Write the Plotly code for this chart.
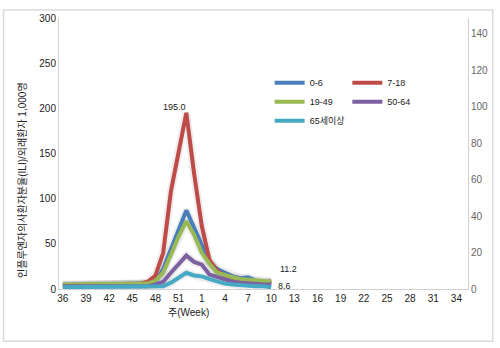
import plotly.graph_objects as go

weeks = [str(w) for w in range(36, 54)] + [str(w) for w in range(1, 36)]
tick_weeks = weeks[::3]

# data weeks 36..53, 1..10 (28 points)
data_weeks = weeks[:28]
s_0_6 =   [4.5, 5, 5, 5, 5, 5, 5, 5, 5, 5, 5, 6, 8, 22, 44, 65, 87, 68, 48, 30, 22, 18, 14, 12, 13, 9, 8, 7]
s_7_18 =  [4, 4, 4, 4, 4, 4, 4, 4, 4, 4, 6, 8, 15, 40, 108, 152, 195.0, 128, 70, 32, 20, 15, 12, 10, 9, 8, 7, 8.6]
s_19_49 = [5, 5, 5, 5, 5, 5, 5, 5, 5, 5, 5, 6, 9, 18, 38, 58, 75, 60, 40, 28, 18, 15, 13, 11, 10, 10, 9, 8]
s_50_64 = [3, 3, 3, 3, 3, 3, 3, 3, 3, 3, 3, 3, 5, 8, 18, 28, 37, 30, 27, 16, 13, 10, 8, 7, 6, 6, 5, 5]
s_65 =    [2, 2, 2, 2, 2, 2, 2, 2, 2, 2, 2, 2, 2, 3, 7, 13, 18, 15, 14, 11, 8, 6, 5, 4, 4, 3, 3, 2]

series = [
    ("0-6", s_0_6, "#4A7EBB", "legend"),
    ("7-18", s_7_18, "#BE4B48", "legend2"),
    ("19-49", s_19_49, "#98B954", "legend"),
    ("50-64", s_50_64, "#7D60A0", "legend2"),
    ("65세이상", s_65, "#46AAC5", "legend"),
]

FONT = "Liberation Sans, Noto Sans CJK KR, sans-serif"

fig = go.Figure()
# soft shadows
for name, vals, color, lg in series:
    fig.add_trace(go.Scatter(x=data_weeks, y=vals, mode="lines",
                             line=dict(color="rgba(0,0,0,0.07)", width=8),
                             showlegend=False, hoverinfo="skip"))
for name, vals, color, lg in series:
    fig.add_trace(go.Scatter(x=data_weeks, y=vals, mode="lines", name=name,
                             line=dict(color=color, width=4), legend=lg))

# invisible trace for secondary axis
fig.add_trace(go.Scatter(x=[weeks[0]], y=[0], yaxis="y2", mode="markers",
                         marker=dict(opacity=0), showlegend=False, hoverinfo="skip"))

fig.update_layout(
    width=500, height=348,
    margin=dict(l=59, r=28, t=14, b=59),
    paper_bgcolor="white", plot_bgcolor="white",
    font=dict(family=FONT, size=10, color="#333333"),
    xaxis=dict(type="category", categoryorder="array", categoryarray=weeks,
               range=[-0.5, 52.5], tickmode="array", tickvals=tick_weeks,
               ticktext=tick_weeks, showgrid=False, showline=True,
               linecolor="#D0D0D0", linewidth=1, ticks="",
               tickfont=dict(size=10, color="#222222")),
    yaxis=dict(range=[0, 300], tickvals=[0, 50, 100, 150, 200, 250, 300],
               showgrid=False, showline=True, linecolor="#D0D0D0", ticks="",
               tickfont=dict(size=10, color="#222222"), zeroline=False),
    yaxis2=dict(overlaying="y", side="right", range=[0, 148.6],
                tickvals=[0, 20, 40, 60, 80, 100, 120, 140], showgrid=False,
                showline=True, linecolor="#D0D0D0", ticks="", zeroline=False,
                tickfont=dict(size=10, color="#666666")),
    legend=dict(x=0.515, y=0.815, xanchor="left", yanchor="top",
                bgcolor="rgba(0,0,0,0)", font=dict(size=9, color="#222222"),
                tracegroupgap=0, itemwidth=30),
    legend2=dict(x=0.705, y=0.815, xanchor="left", yanchor="top",
                 bgcolor="rgba(0,0,0,0)", font=dict(size=9, color="#222222"),
                 tracegroupgap=0, itemwidth=30),
    showlegend=True,
)

i_peak = weeks.index("52")
i_end = weeks.index("10")
fig.add_annotation(x=i_peak, y=195.0, text="195.0", showarrow=False,
                   xanchor="right", yanchor="bottom", xshift=2, yshift=-1,
                   font=dict(size=9, color="#222222"))
fig.add_annotation(x=i_end, y=11.2, yref="y2", text="11.2", showarrow=False,
                   xanchor="left", xshift=7, font=dict(size=9, color="#222222"))
fig.add_annotation(x=i_end, y=8.6, text="8.6", showarrow=False,
                   xanchor="left", yshift=-5, xshift=5,
                   font=dict(size=9, color="#222222"))

fig.add_annotation(xref="paper", yref="paper", x=(190 - 59) / 413, y=(289 - 313) / 275,
                   text="주(Week)", showarrow=False, xanchor="center", yanchor="middle",
                   font=dict(size=10, color="#222222"))
fig.add_annotation(xref="paper", yref="paper", x=(22 - 59) / 413, y=(289 - 178) / 275,
                   text="인플루엔자의사환자분율(ILI)/외래환자 1,000명", textangle=-90,
                   showarrow=False, xanchor="center", yanchor="middle",
                   font=dict(size=10, color="#222222"))

fig.add_shape(type="rect", xref="paper", yref="paper",
              x0=(3 - 59) / 413, x1=(497 - 59) / 413,
              y0=(289 - 342) / 275, y1=(289 - 6) / 275,
              line=dict(color="#DADADA", width=1.5), layer="below")

fig.write_html("out.html")
